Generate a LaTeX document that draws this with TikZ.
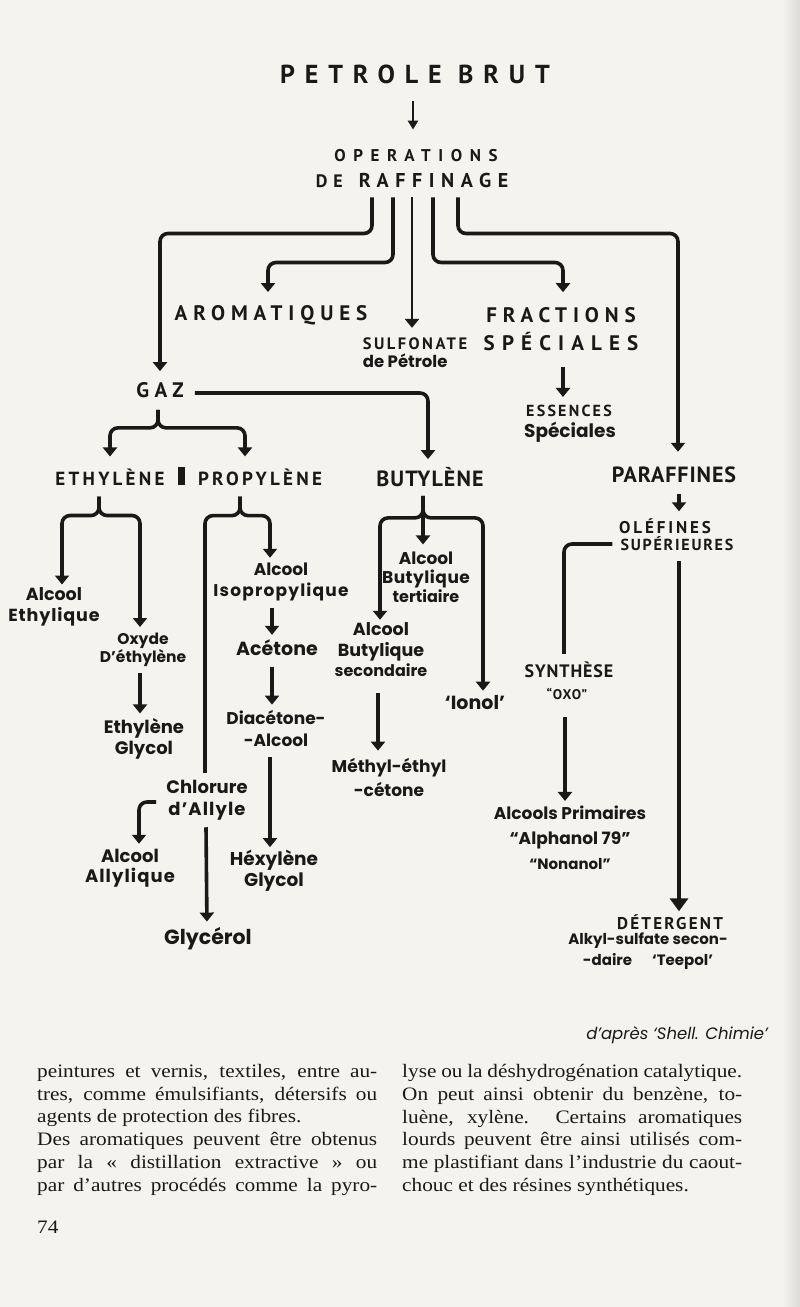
\documentclass[tikz,border=0pt]{standalone}
\usepackage{fontspec}
\usepackage{tikz}
\usetikzlibrary{arrows.meta,calc}
\newfontfamily\handfont{Poppins}
\newfontfamily\capsfont{PT Sans}
\newfontfamily\bookfont[FakeStretch=1.12]{Liberation Serif}
\definecolor{paper}{RGB}{244,243,238}
\definecolor{ink}{RGB}{26,25,23}
\newcommand{\jline}[1]{\makebox[340pt][s]{#1}}
\newcommand{\spaced}[2]{{\addfontfeature{LetterSpace=#1}#2}}

\begin{document}
\begin{tikzpicture}[x=1pt,y=-1pt,
  flow/.style={draw=ink,line width=3.6pt,rounded corners=8pt,
    -{Triangle[width=14pt,length=9pt]},shorten >=#1},
  flow/.default=5pt,
  link/.style={draw=ink,line width=3.6pt,rounded corners=8pt},
  caps/.style n args={3}{inner sep=0pt,text=ink,
    font=\capsfont\bfseries\fontsize{#1}{#2}\selectfont\addfontfeature{LetterSpace=#3}},
  hand/.style 2 args={inner sep=0pt,text=ink,align=center,
    font=\handfont\bfseries\fontsize{#1}{#2}\selectfont},
  book/.style={inner sep=0pt,text=ink,align=left,
    font=\bookfont\fontsize{19}{22.8}\selectfont}]
\fill[paper] (0,0) rectangle (800,1307);
\shade[left color=paper,right color=paper!90!black] (782,0) rectangle (800,1307);
\useasboundingbox (0,0) rectangle (800,1307);

% top
\node[caps={26}{26}{38}] (brut) at (415,74) {PETROLE BRUT};
\node[caps={17}{17}{45}] (oper) at (416,156) {OPERATIONS};
\node[caps={20}{20}{33}] (raff) at (412,180) {{\fontsize{18}{18}\selectfont D\kern6pt E}\hspace{16pt}RAFFINAGE};
\node[caps={21}{21}{28}] (aro) at (271,315) {AROMATIQUES};
\node[hand={16.5}{18},align=left] (sulf) at (415,353) {{\capsfont\addfontfeature{LetterSpace=15}SULFONATE}\\de Pétrole};
\node[caps={21}{21}{28}] (frac) at (561,315) {FRACTIONS};
\node[caps={21}{21}{34}] (spec) at (561,342) {SPÉCIALES};
\node[caps={21}{21}{26}] (gaz) at (160,390) {GAZ};
\node[caps={16}{16}{14}] (ess) at (569,411) {ESSENCES};
\node[hand={18.5}{18.5}] (spc) at (570,432) {Spéciales};

% gases
\node[caps={19}{19}{17}] (eth) at (110,477) {ETHYLÈNE};
\fill[ink] (178,467) rectangle (185,485);
\node[caps={19}{19}{17}] (prop) at (260,477) {PROPYLÈNE};
\node[caps={22}{22}{5}] (but) at (430,477) {BUTYLÈNE};
\node[caps={22}{22}{4}] (par) at (674,475) {PARAFFINES};
\node[caps={17}{17}{17}] (ole) at (665,526) {OLÉFINES};
\node[caps={16}{16}{11}] (sup) at (677,544) {SUPÉRIEURES};

% ethylene and propylene products
\node[hand={17.5}{21}] (alcE) at (54,607) {Alcool\\\spaced{5}{Ethylique}};
\node[hand={15.5}{18}] (oxy) at (143,650) {Oxyde\\D’éthylène};
\node[hand={18}{21}] (eglyc) at (144,739) {Ethylène\\Glycol};
\node[hand={17}{21}] (iso) at (281,582) {Alcool\\\spaced{7}{Isopropylique}};
\node[hand={19}{19}] (acet) at (277,648) {Acétone};
\node[hand={17}{22}] (diac) at (276,728) {Diacétone-\\-Alcool};
\node[hand={18.5}{21}] (hex) at (274,871) {Héxylène\\Glycol};
\node[hand={18}{22}] (chl) at (207,800) {Chlorure\\\spaced{6}{d’Allyle}};
\node[hand={18}{20}] (ally) at (130,868) {Alcool\\\spaced{6}{Allylique}};
\node[hand={20.5}{20.5}] (glyc) at (208,939) {Glycérol};

% butylene products
\node[hand={17}{19}] (tert) at (426,577) {Alcool\\\spaced{3}{Butylique}\\{\fontsize{16}{16}\selectfont tertiaire}};
\node[hand={17.5}{20.5}] (sec) at (381,650) {Alcool\\Butylique\\{\fontsize{16}{16}\selectfont secondaire}};
\node[hand={19}{19}] (ionol) at (475,703) {‘Ionol’};
\node[hand={17}{24}] (meth) at (389,777) {Méthyl-éthyl\\-cétone};

% olefines
\node[caps={18}{18}{5}] (syn) at (569,670) {SYNTHÈSE};
\node[caps={14}{14}{8}] (oxo) at (567,694) {“OXO”};
\node[hand={17}{25}] (prim) at (570,838) {Alcools Primaires\\“Alphanol 79”\\{\fontsize{15}{15}\selectfont “Nonanol”}};
\node[caps={17}{17}{13}] (det) at (670,922) {DÉTERGENT};
\node[hand={15}{21}] (teep) at (648,951) {Alkyl-sulfate secon-\\-daire\hspace{20pt}‘Teepol’};
\node[inner sep=0pt,text=ink,font=\handfont\itshape\fontsize{16.5}{16.5}\selectfont] (apres) at (677,1035) {d’après ‘Shell. Chimie’};

% text of the page
\node[book,anchor=north west] (colL) at (37,1064) {\jline{peintures et vernis, textiles, entre au-}\\
  \jline{tres, comme émulsifiants, détersifs ou}\\
  agents de protection des fibres.\\
  \jline{Des aromatiques peuvent être obtenus}\\
  \jline{par la « distillation extractive » ou}\\
  \jline{par d’autres procédés comme la pyro-}};
\node[book,anchor=north west] (colR) at (402,1064) {\jline{lyse ou la déshydrogénation catalytique.}\\
  \jline{On peut ainsi obtenir du benzène, to-}\\
  \jline{luène, xylène. Certains aromatiques}\\
  \jline{lourds peuvent être ainsi utilisés com-}\\
  \jline{me plastifiant dans l’industrie du caout-}\\
  chouc et des résines synthétiques.};
\node[book,anchor=base west] (page) at (37,1233) {74};

% connectors
\draw[flow=20pt,line width=2.4pt,-{Triangle[width=10pt,length=9pt]}] ($(brut.south)+(-2,17)$) -- ($(oper.north)+(-3,0)$);
\coordinate (r1) at ($(raff.south)+(-40,10)$);
\coordinate (r2) at ($(raff.south)+(-19,10)$);
\coordinate (r3) at ($(raff.south)+(0,10)$);
\coordinate (r4) at ($(raff.south)+(21,10)$);
\coordinate (r5) at ($(raff.south)+(46,10)$);
\draw[flow=11pt] (r1) -- ++(0,36) -| (gaz.north);
\draw[flow=13pt] (r2) -- ++(0,65) -| ($(aro.north)+(-3,0)$);
\draw[flow=10pt,line width=2.6pt] (r3) -- (r3 |- sulf.north);
\draw[flow=15pt] (r4) -- ++(0,65) -| ($(frac.north)+(2,0)$);
\draw[flow=15pt] (r5) -- ++(0,36) -| ($(par.north)+(4,0)$);
\draw[flow=8pt] ($(spec.south)+(2,16)$) -- ($(ess.north)+(-6,0)$);
\draw[flow=8pt] ($(gaz.east)+(11,3)$) -| ($(but.north)+(-2,0)$);
\draw[flow=12pt] ($(gaz.south)+(-2,12)$) -- ++(0,18) -| (eth.north);
\draw[flow=12pt] ($(gaz.south)+(-2,12)$) -- ++(0,18) -| ($(prop.north)+(-15,0)$);

\coordinate (e0) at ($(eth.south)+(-11,11)$);
\draw[flow=3pt] (e0) -- ++(0,19) -| ($(alcE.north)+(8,0)$);
\draw[flow=6pt] (e0) -- ++(0,19) -| ($(oxy.north)+(-3,0)$);
\draw[flow] ($(oxy.south)+(-3,6)$) -- ($(eglyc.north)+(-4,0)$);

\coordinate (p0) at ($(prop.south)+(-20,11)$);
\draw[flow] (p0) -- ++(0,19) -| ($(iso.north)+(-11,0)$);
\draw[link] (p0) -- ++(0,19) -| ($(chl.north)+(-2,-7)$);
\draw[flow] ($(iso.south)+(-9,7)$) -- ($(acet.north)+(-5,0)$);
\draw[flow] ($(acet.south)+(-5,11)$) -- ($(diac.north)+(-4,0)$);
\draw[flow=3pt] ($(diac.south)+(-6,11)$) -- ($(hex.north)+(-4,0)$);
\draw[flow] ($(chl.west)+(-10,2)$) -| ($(ally.north)+(9,0)$);
\draw[flow=6pt] ($(chl.south)+(-1,7)$) -- ($(glyc.north)+(-1,0)$);

\coordinate (b0) at ($(but.south)+(-7,9)$);
\draw[flow=7pt] (b0) -- (b0 |- tert.north);
\draw[flow=3pt] (b0) -- ++(0,22) -| ($(sec.north)+(-1,0)$);
\draw[flow=5pt] (b0) -- ++(0,22) -| ($(ionol.north)+(8,0)$);
\draw[flow=7pt] ($(sec.south)+(-3,16)$) -- ($(meth.north)+(-11,0)$);

\draw[flow=7pt] ($(par.south)+(5,11)$) -- ($(ole.north)+(14,0)$);
\draw[link] ($(sup.west)+(-8,0)$) -| ($(syn.north)+(-5,-8)$);
\draw[flow] ($(oxo.south)+(-2,17)$) -- ($(prim.north)+(-5,0)$);
\draw[flow=3pt,-{Triangle[width=18pt,length=13pt]}] ($(sup.south)+(2,10)$) -- ($(det.north)+(9,0)$);
\end{tikzpicture}
\end{document}
